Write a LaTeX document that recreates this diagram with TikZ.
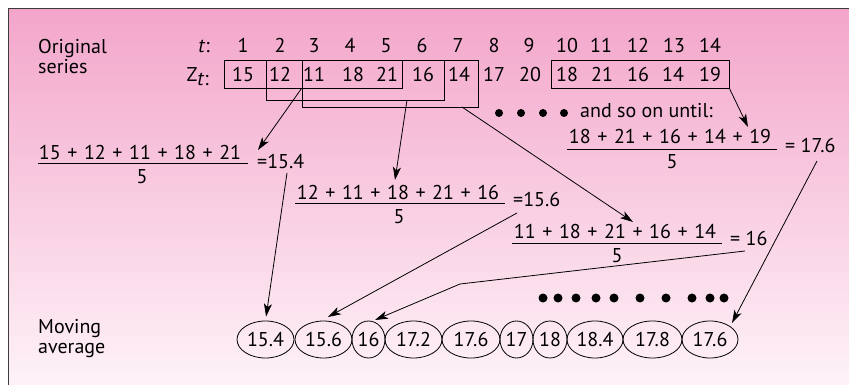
\documentclass[tikz,border=0pt]{standalone}
\usepackage{fontspec}
\setmainfont{PT Sans}
\usetikzlibrary{shapes.geometric,arrows.meta,calc}
\definecolor{pinktop}{RGB}{243,166,202}
\definecolor{pinkbot}{RGB}{254,244,249}
\definecolor{framec}{RGB}{60,60,60}
\newcommand\wideSp{\spaceskip=6.6pt\relax}
\begin{document}
\begin{tikzpicture}[x=1pt,y=-1pt,
  font=\fontsize{20}{22}\selectfont,
  txt/.style={inner sep=0pt},
  boxr/.style={draw, line width=0.9pt, inner sep=0pt},
  arr/.style={draw, line width=0.8pt, -{Stealth[length=13pt,width=8pt,inset=3.5pt]}},
  ell/.style={ellipse, draw, line width=0.8pt, inner sep=0pt, minimum height=37pt},
  bigdot/.style={circle, fill, inner sep=0pt, minimum size=8pt},
  fbar/.style={line width=0.8pt}]
\fill[white] (0,0) rectangle (849,385);
\useasboundingbox (0,0) rectangle (849,385);
\shade[top color=pinktop, bottom color=pinkbot] (8.5,9) rectangle (856,392);
\draw[framec, line width=1pt] (8.5,9) rectangle (856,392);

% labels
\node[txt, anchor=base west] (orig1) at (38,54) {Original};
\node[txt, anchor=base west] (orig2) at (38,74) {series};
\node[txt, anchor=base west] (mov1) at (38,333) {Moving};
\node[txt, anchor=base west] (mov2) at (38,353) {average};
\node[txt, anchor=base east] (tlab) at (210,53) {\textit{t}:};
\node[txt, anchor=base east] (zlab) at (209,82) {Z\raisebox{-4pt}{\textit{t}:}};

% t row
\foreach \n/\x in {1/243,2/280,3/314,4/350,5/386,6/422,7/458,8/494,9/529,10/567,11/601,12/638,13/674,14/710}
  \node[txt, anchor=base] (t\n) at (\x,53) {\n};
% Z row
\foreach \n/\x/\v in {1/243/15,2/280/12,3/314/11,4/353/18,5/387/21,6/423/16,7/459/14,8/494/17,9/530/20,10/567/18,11/602/21,12/638/16,13/673/14,14/710/19}
  \node[txt, anchor=base] (z\n) at (\x,82) {\v};

% boxes
\node[boxr, minimum width=178pt, minimum height=28pt] (b1) at (313,74) {};
\node[boxr, minimum width=178pt, minimum height=40pt] (b2) at (355,80) {};
\node[boxr, minimum width=176pt, minimum height=47pt] (b3) at (390,83.5) {};
\node[boxr, minimum width=178pt, minimum height=28pt] (b4) at (640,74) {};

% dots and text
\foreach \i/\x in {1/499,2/521,3/543,4/564}
  \node[bigdot] (d\i) at (\x,113) {};
\node[txt, anchor=base west] (sooon) at (580,118) {and so on until:};

% fraction 1
\node[txt, anchor=base] (num1) at (140,160) {\wideSp 15 + 12 + 11 + 18 + 21};
\draw[fbar] (38,163) coordinate (bar1a) -- (248,163) coordinate (bar1b);
\node[txt, anchor=base] (den1) at (142,183) {5};
\node[txt, anchor=base west] (eq1) at (257,168) {=15.4};
% fraction 2
\node[txt, anchor=base] (num2) at (398,199) {\wideSp 12 + 11 + 18 + 21 + 16};
\draw[fbar] (295,203) coordinate (bar2a) -- (505,203) coordinate (bar2b);
\node[txt, anchor=base] (den2) at (399,223) {5};
\node[txt, anchor=base west] (eq2) at (513,207) {=15.6};
% fraction 3
\node[txt, anchor=base] (num3) at (615,238) {\wideSp 11 + 18 + 21 + 16 + 14};
\draw[fbar] (512,243) coordinate (bar3a) -- (722,243) coordinate (bar3b);
\node[txt, anchor=base] (den3) at (617,262) {5};
\node[txt, anchor=base west] (eq3) at (730,245) {= 16};
% fraction 4
\node[txt, anchor=base] (num4) at (670,144) {\wideSp 18 + 21 + 16 + 14 + 19};
\draw[fbar] (567,149) coordinate (bar4a) -- (777,149) coordinate (bar4b);
\node[txt, anchor=base] (den4) at (672,168) {5};
\node[txt, anchor=base west] (eq4) at (785,153) {= 17.6};

% ellipses
\foreach \i/\x/\w/\v in {1/265.5/57/15.4,2/323.5/57/15.6,3/368.5/33/16,4/413.5/57/17.2,5/471/58/17.6,6/516.5/33/17,7/550/34/18,8/595/56/18.4,9/652.5/59/17.8,10/710/56/17.6}
  \node[ell, minimum width=\w pt] (e\i) at (\x,339.5) {\v};

% dots row
\foreach \i/\x in {1/543,2/558,3/576,4/596,5/614,6/640,7/666,8/692,9/710,10/724}
  \node[bigdot, minimum size=9pt] (r\i) at (\x,298) {};

% connector anchors
\coordinate (s1) at (b3.west |- b1.south);
\coordinate (tip1) at (258,150);
\coordinate (s2) at (407,100);
\coordinate (tip2) at (395,180);
\coordinate (s3) at (462,107);
\coordinate (tip3) at (633,222);
\coordinate (tip4) at (748,127);
\coordinate (f1) at (287,173);
\coordinate (f2) at (517,213);
\coordinate (f3) at (745,251);
\coordinate (bend3) at (460,284);
\coordinate (f4) at (817,161);

\draw[arr] (s1) -- (tip1);
\draw[arr] (s2) -- (tip2);
\draw[arr] (s3) -- (tip3);
\draw[arr] (b4.south east) -- (tip4);
\draw[arr, shorten >=4pt] (f1) -- (e1.north);
\draw[arr] (f2) -- (328,317);
\draw[arr] (f3) -- (bend3) -- (375,320);
\draw[arr] (f4) -- (732,323);
\end{tikzpicture}
\end{document}
